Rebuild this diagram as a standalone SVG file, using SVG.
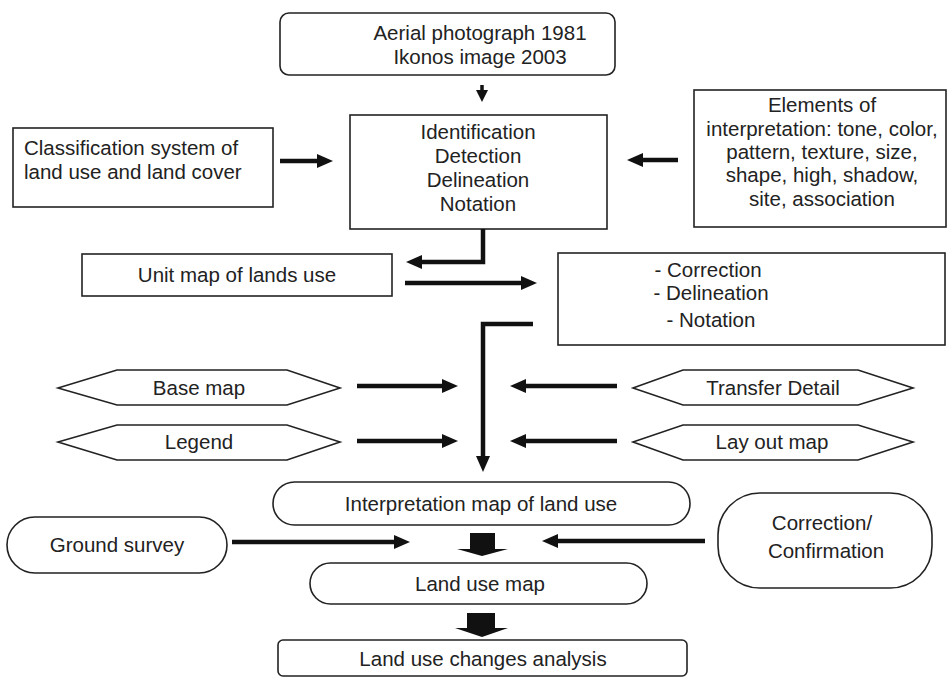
<svg xmlns="http://www.w3.org/2000/svg" width="947" height="678" viewBox="0 0 947 678">
<style>
  .box { fill: #fff; stroke: #222; stroke-width: 1.6; }
  .t { font-family: "Liberation Sans", Arial, sans-serif; font-size: 20.5px; fill: #222; }
  .c { text-anchor: middle; }
  .arr { stroke: #111; stroke-width: 4.5; fill: none; marker-end: url(#head); }
  .blk { fill: #111; }
</style>
<defs>
  <marker id="head" markerUnits="userSpaceOnUse" markerWidth="16" markerHeight="14" viewBox="0 0 16 14" refX="4" refY="7" orient="auto">
    <path d="M0,0 L16,7 L0,14 z" fill="#111"/>
  </marker>
  <marker id="headS" markerUnits="userSpaceOnUse" markerWidth="12" markerHeight="12" viewBox="0 0 12 12" refX="3" refY="6" orient="auto">
    <path d="M0,0 L12,6 L0,12 z" fill="#111"/>
  </marker>
</defs>
<rect width="947" height="678" fill="#fff"/>

<g id="source">
  <rect class="box" x="280" y="13" width="335" height="62" rx="9"/>
  <text class="t c" x="480" y="40">Aerial photograph 1981</text>
  <text class="t c" x="480" y="64">Ikonos image 2003</text>
</g>

<g id="classification">
  <rect class="box" x="13" y="128" width="260" height="79"/>
  <text class="t" x="24" y="155">Classification system of</text>
  <text class="t" x="24" y="179">land use and land cover</text>
</g>

<g id="identification">
  <rect class="box" x="350" y="115" width="257" height="114"/>
  <text class="t c" x="478" y="139">Identification</text>
  <text class="t c" x="478" y="163">Detection</text>
  <text class="t c" x="478" y="187">Delineation</text>
  <text class="t c" x="478" y="211">Notation</text>
</g>

<g id="elements">
  <rect class="box" x="694" y="90" width="252" height="137"/>
  <text class="t c" x="822" y="112">Elements of</text>
  <text class="t c" x="822" y="136">interpretation: tone, color,</text>
  <text class="t c" x="822" y="159">pattern, texture, size,</text>
  <text class="t c" x="822" y="182">shape, high, shadow,</text>
  <text class="t c" x="822" y="206">site, association</text>
</g>

<g id="unitmap">
  <rect class="box" x="82" y="254" width="310" height="42"/>
  <text class="t c" x="237" y="282">Unit map of lands use</text>
</g>

<g id="correction">
  <rect class="box" x="558" y="253" width="387" height="92"/>
  <text class="t c" x="708" y="277">- Correction</text>
  <text class="t c" x="711" y="300">- Delineation</text>
  <text class="t c" x="711" y="327">- Notation</text>
</g>

<g id="basemap">
  <polygon class="box" points="58,388 117,370 287,370 340,388 287,405 117,405"/>
  <text class="t c" x="199" y="395">Base map</text>
</g>
<g id="legend">
  <polygon class="box" points="58,442 117,425 287,425 340,442 287,460 117,460"/>
  <text class="t c" x="199" y="449">Legend</text>
</g>
<g id="transfer">
  <polygon class="box" points="633,388 683,370 858,370 913,388 858,405 683,405"/>
  <text class="t c" x="773" y="395">Transfer Detail</text>
</g>
<g id="layout">
  <polygon class="box" points="633,442 683,425 858,425 913,442 858,460 683,460"/>
  <text class="t c" x="772" y="449">Lay out map</text>
</g>

<g id="interpretation">
  <rect class="box" x="273" y="482" width="417" height="43" rx="21.5"/>
  <text class="t c" x="481" y="511">Interpretation map of land use</text>
</g>

<g id="ground">
  <rect class="box" x="7" y="517" width="220" height="56" rx="28"/>
  <text class="t c" x="117" y="552">Ground survey</text>
</g>

<g id="confirm">
  <rect class="box" x="718" y="493" width="214" height="95" rx="42"/>
  <text class="t c" x="822" y="530">Correction/</text>
  <text class="t c" x="826" y="558">Confirmation</text>
</g>

<g id="landusemap">
  <rect class="box" x="310" y="563" width="337" height="41" rx="20.5"/>
  <text class="t c" x="480" y="591">Land use map</text>
</g>

<g id="analysis">
  <rect class="box" x="278" y="640" width="409" height="36" rx="5"/>
  <text class="t c" x="483" y="666">Land use changes analysis</text>
</g>

<g id="connectors">
  <line x1="482" y1="85" x2="482" y2="93" stroke="#111" stroke-width="3.5" marker-end="url(#headS)"/>
  <line class="arr" x1="280" y1="161" x2="321" y2="161"/>
  <line class="arr" x1="678" y1="160" x2="639" y2="160"/>
  <polyline class="arr" points="483,229 483,262 418,262"/>
  <line class="arr" x1="405" y1="283" x2="525" y2="283"/>
  <polyline class="arr" points="533,324 483,324 483,460"/>
  <line class="arr" x1="357" y1="386" x2="446" y2="386"/>
  <line class="arr" x1="357" y1="441" x2="446" y2="441"/>
  <line class="arr" x1="617" y1="386" x2="522" y2="386"/>
  <line class="arr" x1="617" y1="441" x2="522" y2="441"/>
  <line class="arr" x1="232" y1="542" x2="398" y2="542"/>
  <line class="arr" x1="705" y1="541" x2="554" y2="541"/>
  <polygon class="blk" points="470,533 495,533 495,549 508,549 482,556 457,549 470,549"/>
  <polygon class="blk" points="467,613 495,613 495,628 508,628 482,637 455,628 467,628"/>
</g>
</svg>
